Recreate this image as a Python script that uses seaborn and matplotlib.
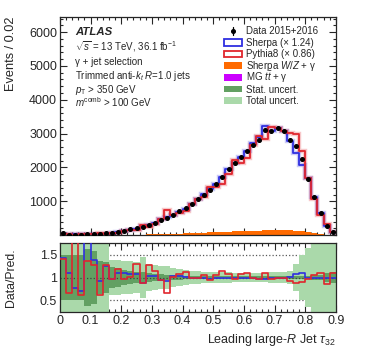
import numpy as np
import pandas as pd
import seaborn as sns
import matplotlib.pyplot as plt
from matplotlib.ticker import MultipleLocator, FixedLocator
from matplotlib.patches import Rectangle

sns.set_style("ticks")
plt.rcParams['font.family'] = ['Liberation Sans', 'DejaVu Sans']
plt.rcParams['mathtext.fontset'] = 'custom'
plt.rcParams['mathtext.rm'] = 'Liberation Sans'
plt.rcParams['mathtext.it'] = 'Liberation Sans:italic'
plt.rcParams['mathtext.bf'] = 'Liberation Sans:bold'

# tau32 binning, 0.02 wide
edges = np.round(np.arange(0, 0.9001, 0.02), 3)
centers = (edges[:-1] + edges[1:]) / 2

# data 2015+2016 (events / bin)
data = [50, 15, 15, 15, 30, 40, 40, 50, 70, 90,
        130, 170, 200, 250, 310, 365, 445, 505, 610, 710,
        790, 920, 1060, 1190, 1330, 1500, 1710, 1940, 2120, 2300,
        2500, 2670, 2820, 3120, 3070, 3160, 3090, 2810, 2620, 2250,
        1650, 1130, 660, 275, 100]

# Data / Pred. ratios
ratio_sherpa = [1.42, 1.10, 0.77, 0.70, 1.95, 1.38, 0.92, 1.25, 0.97, 1.09,
                1.10, 1.08, 1.07, 0.89, 1.04, 1.03, 0.94, 0.93, 1.03, 1.03,
                1.02, 1.00, 1.00, 0.98, 0.97, 1.00, 0.99, 0.99, 1.00, 1.00,
                1.00, 0.98, 0.97, 0.97, 1.00, 1.00, 1.00, 1.01, 1.08, 1.09,
                0.98, 1.00, 1.00, 1.00, 0.98]
ratio_pythia = [1.40, 0.67, 1.95, 0.62, 1.36, 1.28, 0.63, 1.28, 0.96, 1.19,
                0.96, 1.02, 1.30, 0.87, 1.28, 1.15, 0.94, 0.67, 1.01, 1.07,
                1.13, 1.00, 1.00, 1.06, 0.94, 1.05, 1.14, 1.08, 0.96, 1.08,
                1.09, 1.00, 0.96, 1.10, 0.96, 1.00, 1.00, 0.93, 0.88, 0.90,
                0.97, 1.06, 1.09, 0.86, 1.10]

# backgrounds (stacked)
bkg_wz = [0, 0, 0, 0, 2, 3, 4, 5, 6, 8,
          10, 12, 15, 18, 22, 26, 30, 35, 40, 46,
          52, 58, 65, 72, 80, 88, 95, 102, 108, 115,
          120, 125, 130, 135, 138, 140, 140, 135, 125, 110,
          85, 55, 30, 12, 4]
bkg_tt = [0, 0, 0, 0, 0, 0, 0, 0, 0, 0,
          0, 0, 0, 1, 1, 1, 1, 1, 2, 2,
          2, 2, 3, 3, 3, 3, 4, 4, 4, 4,
          4, 4, 4, 4, 4, 4, 3, 3, 3, 2,
          2, 1, 1, 0, 0]

# relative uncertainties on the prediction
stat_unc = [0.50, 0.50, 0.50, 0.50, 0.62, 0.58, 0.35, 0.33, 0.22, 0.20,
            0.17, 0.15, 0.13, 0.11, 0.09, 0.08, 0.07, 0.06, 0.05, 0.05,
            0.04, 0.04, 0.035, 0.03, 0.03, 0.03, 0.03, 0.025, 0.025, 0.025,
            0.025, 0.025, 0.025, 0.025, 0.025, 0.025, 0.025, 0.03, 0.03, 0.035,
            0.04, 0.05, 0.06, 0.10, 0.12]
total_unc = [0.8, 0.8, 0.8, 0.8, 0.8, 0.8, 0.8, 0.8, 0.38, 0.38,
             0.35, 0.35, 0.33, 0.45, 0.30, 0.28, 0.25, 0.25, 0.20, 0.18,
             0.16, 0.15, 0.14, 0.13, 0.12, 0.12, 0.11, 0.11, 0.10, 0.10,
             0.10, 0.10, 0.10, 0.10, 0.11, 0.12, 0.13, 0.14, 0.30, 0.50,
             0.65, 0.80, 0.80, 0.80, 0.80]

legend_labels = ['Data 2015+2016', 'Sherpa (× 1.24)', 'Pythia8 (× 0.86)',
                 r'Sherpa $W/Z$ + γ', r'MG $t\bar{t}$ + γ', 'Stat. uncert.', 'Total uncert.']

data = np.array(data, float)
sherpa = data / np.array(ratio_sherpa)
pythia = data / np.array(ratio_pythia)

blue = '#2f2fe0'
red = '#e0262d'
orange = '#ff6a00'
magenta = '#cc00ff'
dark_green = '#62a062'
light_green = '#aad9aa'

fig = plt.figure(figsize=(3.74, 3.59), dpi=100)
ax = fig.add_axes([0.160, 0.345, 0.738, 0.608])
rax = fig.add_axes([0.160, 0.131, 0.738, 0.192])

hist_kw = dict(binwidth=0.02, binrange=(0, 0.9))

# ---- main panel
bkg_df = pd.DataFrame({
    'tau': np.concatenate([centers, centers]),
    'w': np.concatenate([bkg_wz, bkg_tt]).astype(float),
    'proc': ['wz'] * len(centers) + ['tt'] * len(centers),
})
sns.histplot(data=bkg_df, x='tau', weights='w', hue='proc', multiple='stack',
             element='step', palette={'wz': orange, 'tt': magenta},
             hue_order=['wz', 'tt'], alpha=1, linewidth=0, legend=False, ax=ax,
             **hist_kw)

for vals, c in [(sherpa, blue), (pythia, red)]:
    ax.stairs(vals, edges, color=c, lw=3.2, alpha=0.25)
    sns.histplot(x=centers, weights=vals, element='step', fill=False,
                 color=c, linewidth=1.3, ax=ax, **hist_kw)

ax.errorbar(centers, data, yerr=np.sqrt(data), fmt='o', ms=2.6, color='k',
            elinewidth=0.9, capsize=0, zorder=5)

ax.set_xlim(0, 0.9)
ax.set_ylim(0, 6450)
ax.set_xlabel('')
ax.set_ylabel('Events / 0.02', loc='top', fontsize=9.2)
ax.yaxis.set_major_locator(FixedLocator([1000, 2000, 3000, 4000, 5000, 6000]))
ax.yaxis.set_minor_locator(MultipleLocator(200))
ax.xaxis.set_major_locator(MultipleLocator(0.1))
ax.xaxis.set_minor_locator(MultipleLocator(0.02))
ax.tick_params(labelbottom=False)

tx = 0.055
ax.text(tx, 0.93, 'ATLAS', transform=ax.transAxes, fontsize=8.2,
        fontweight='bold', fontstyle='italic', va='center')
lines = [r'$\sqrt{s}$ = 13 TeV, 36.1 fb$^{-1}$',
         'γ + jet selection',
         r'Trimmed anti-$k_{t}$ $R$=1.0 jets',
         r'$p_{\rm T}$ > 350 GeV',
         r'$m^{\rm comb}$ > 100 GeV']
for i, t in enumerate(lines):
    ax.text(tx, 0.846 - 0.065 * i, t, transform=ax.transAxes, fontsize=7, va='baseline')

# legend, laid out row by row
styles = [None,
          dict(facecolor='white', edgecolor=blue, lw=1.3),
          dict(facecolor='white', edgecolor=red, lw=1.3),
          dict(facecolor=orange, edgecolor='none'),
          dict(facecolor=magenta, edgecolor='none'),
          dict(facecolor=dark_green, edgecolor='none'),
          dict(facecolor=light_green, edgecolor='none')]
bx, bw, bh = 0.593, 0.066, 0.030
ly0, dly = 0.937, 0.0535
for i, (lab, st) in enumerate(zip(legend_labels, styles)):
    y = ly0 - i * dly
    if st is None:
        ax.plot([bx + bw / 2], [y], 'o', ms=2.6, color='k', transform=ax.transAxes)
        ax.plot([bx + bw / 2] * 2, [y - 0.018, y + 0.018], color='k', lw=0.9,
                transform=ax.transAxes)
    else:
        ax.add_patch(Rectangle((bx, y - bh / 2), bw, bh, transform=ax.transAxes, **st))
    ax.text(0.674, y - 0.016, lab, transform=ax.transAxes, fontsize=7, va='baseline')

# ---- ratio panel
rax.stairs(1 + np.array(total_unc), edges, baseline=1 - np.array(total_unc),
           fill=True, color=light_green, lw=0, zorder=1)
rax.stairs(1 + np.array(stat_unc), edges, baseline=1 - np.array(stat_unc),
           fill=True, color=dark_green, lw=0, zorder=1.5)
for y in (0.5, 1.5):
    rax.axhline(y, color='0.35', ls=':', lw=0.9, zorder=0.5)
rax.axhline(1.0, color='0.25', ls=':', lw=0.9, zorder=2)
sns.histplot(x=centers, weights=ratio_sherpa, element='step', fill=False,
             color=blue, linewidth=1.2, ax=rax, zorder=3, **hist_kw)
sns.histplot(x=centers, weights=ratio_pythia, element='step', fill=False,
             color=red, linewidth=1.2, ax=rax, zorder=4, **hist_kw)

rax.set_xlim(0, 0.9)
rax.set_ylim(0.25, 1.75)
rax.set_ylabel('Data/Pred.', fontsize=8.8)
rax.set_xlabel(r'Leading large-$R$ Jet $\tau_{32}$', loc='right', fontsize=9)
rax.yaxis.set_major_locator(FixedLocator([0.5, 1.0, 1.5]))
rax.yaxis.set_minor_locator(MultipleLocator(0.1))
rax.set_yticklabels(['0.5', '1', '1.5'])
rax.set_xticks(np.round(np.arange(0, 0.91, 0.1), 1))
rax.set_xticklabels(['0', '0.1', '0.2', '0.3', '0.4', '0.5', '0.6', '0.7', '0.8', '0.9'])
rax.xaxis.set_minor_locator(MultipleLocator(0.02))

for a in (ax, rax):
    a.tick_params(which='both', direction='in', top=True, right=True, labelsize=9,
                  width=0.8, pad=2)
    a.tick_params(which='major', length=5)
    a.tick_params(which='minor', length=2.5)
    for s in a.spines.values():
        s.set_linewidth(0.9)
        s.set_visible(True)

ax.yaxis.set_label_coords(-0.155, 1.0)
rax.yaxis.set_label_coords(-0.155, 0.5)
rax.xaxis.set_label_coords(1.0, -0.29)

fig.savefig('out.png', dpi=100)
